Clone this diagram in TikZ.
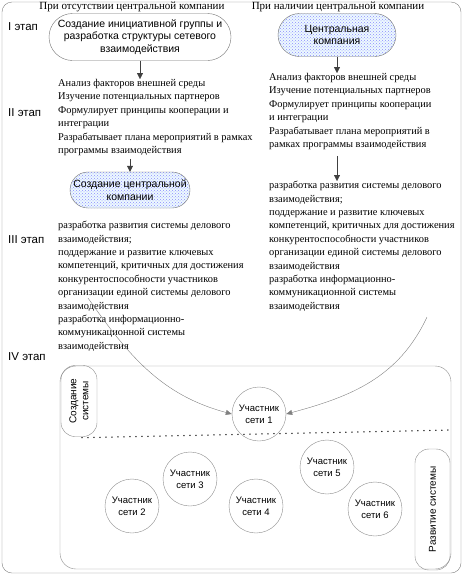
\documentclass[tikz,border=0pt]{standalone}
\usepackage{fontspec}
\setmainfont{Liberation Serif}
\setsansfont{Liberation Sans}
\usetikzlibrary{shapes.misc,arrows.meta,patterns}

\begin{document}
\begin{tikzpicture}[x=1pt,y=-1pt,
    stage/.style={anchor=west, inner sep=0pt, font=\sffamily\fontsize{11.5}{13}\selectfont},
    head/.style={inner sep=0pt, font=\rmfamily\fontsize{11}{12}\selectfont},
    steps/.style={anchor=north west, align=left, inner sep=0pt,
                  font=\rmfamily\fontsize{10.4}{13.4}\selectfont},
    pill/.style={rounded rectangle, draw=black!55, align=center, inner sep=1pt,
                 font=\sffamily\fontsize{10.5}{12.5}\selectfont},
    hub/.style={pill, preaction={fill=cyan!7}, pattern=crosshatch dots,
                pattern color=blue!45},
    member/.style={circle, draw=black!45, minimum size=54pt, inner sep=0pt,
                   align=center, font=\sffamily\fontsize{9.5}{12}\selectfont},
    side/.style={draw=black!45, rounded corners=14pt, rotate=90, align=center,
                 inner sep=0pt, font=\sffamily\fontsize{10}{12}\selectfont},
    link/.style={draw=black!75, -{Triangle[length=6pt,width=6pt]}},
    curl/.style={draw=black!50, -{Triangle[length=6pt,width=5pt]}}]
    \useasboundingbox (0,0) rectangle (464,576);
    \draw[black!50, rounded corners=10pt] (2,2) rectangle (461,573);

    \node[head] (headL) at (132,7) {При отсутствии центральной компании};
    \node[head] (headR) at (338,7) {При наличии центральной компании};

    \node[stage] (st1) at (8,27)  {I этап};
    \node[stage] (st2) at (8,113) {II этап};
    \node[stage] (st3) at (8,240) {III этап};
    \node[stage] (st4) at (8,357) {IV этап};

    \node[pill, minimum width=184pt, minimum height=47pt] (groupL) at (140,37)
      {Создание инициативной группы и\\разработка структуры сетевого\\взаимодействия};
    \node[hub, minimum width=120pt, minimum height=43pt] (hubR) at (337,35)
      {Центральная\\компания};

    \node[steps] (prepL) at (58,79)
      {Анализ факторов внешней среды\\
       Изучение потенциальных партнеров\\
       Формулирует принципы кооперации и\\
       интеграции\\
       Разрабатывает плана мероприятий в рамках\\
       программы взаимодействия};
    \node[steps] (prepR) at (269,73)
      {Анализ факторов внешней среды\\
       Изучение потенциальных партнеров\\
       Формулирует принципы кооперации\\
       и интеграции\\
       Разрабатывает плана мероприятий в\\
       рамках программы взаимодействия};

    \node[hub, minimum width=122pt, minimum height=36pt] (hubL) at (130,190)
      {Создание центральной\\компании};

    \node[steps] (devL) at (58,221)
      {разработка развития системы делового\\
       взаимодействия;\\
       поддержание и развитие ключевых\\
       компетенций, критичных для достижения\\
       конкурентоспособности участников\\
       организации единой системы делового\\
       взаимодействия\\
       разработка информационно-\\
       коммуникационной системы\\
       взаимодействия};
    \node[steps] (devR) at (269,181)
      {разработка развития системы делового\\
       взаимодействия;\\
       поддержание и развитие ключевых\\
       компетенций, критичных для достижения\\
       конкурентоспособности участников\\
       организации единой системы делового\\
       взаимодействия\\
       разработка информационно-\\
       коммуникационной системы\\
       взаимодействия};

    \draw[black!45, rounded corners=16pt] (60,366) rectangle (451,569);
    \node[side, minimum width=71pt, minimum height=36pt] (build) at (79,401)
      {Создание\\системы};
    \node[side, minimum width=121pt, minimum height=35pt] (grow) at (432.5,509.5)
      {Развитие системы};

    \node[member] (m1) at (259,414) {Участник\\сети 1};
    \node[member] (m2) at (132,506) {Участник\\сети 2};
    \node[member] (m3) at (190,479) {Участник\\сети 3};
    \node[member] (m4) at (256,506) {Участник\\сети 4};
    \node[member] (m5) at (327,467) {Участник\\сети 5};
    \node[member] (m6) at (375,509) {Участник\\сети 6};

    \coordinate (edge) at (451,430);
    \coordinate (fromL) at (88,298);
    \coordinate (fromR) at (427,317);

    \draw[link] (groupL.south) -- (groupL.south |- prepL.north);
    \draw[link] (hubR.south) -- (hubR.south |- prepR.north);
    \draw[link] (hubL.north |- prepL.south) ++(0,3) -- (hubL.north);
    \draw[link] (hubR.south |- prepR.south) ++(0,6) -- (hubR.south |- devR.north);
    \draw[curl] (fromL) to[out=-55, in=165] (m1.west);
    \draw[curl] (fromR) to[out=-115, in=15] (m1.east);
    \draw[line width=1.5pt, dash pattern=on 0pt off 6pt, line cap=round]
      (build.west) ++(3,1) -- (edge);
\end{tikzpicture}
\end{document}
